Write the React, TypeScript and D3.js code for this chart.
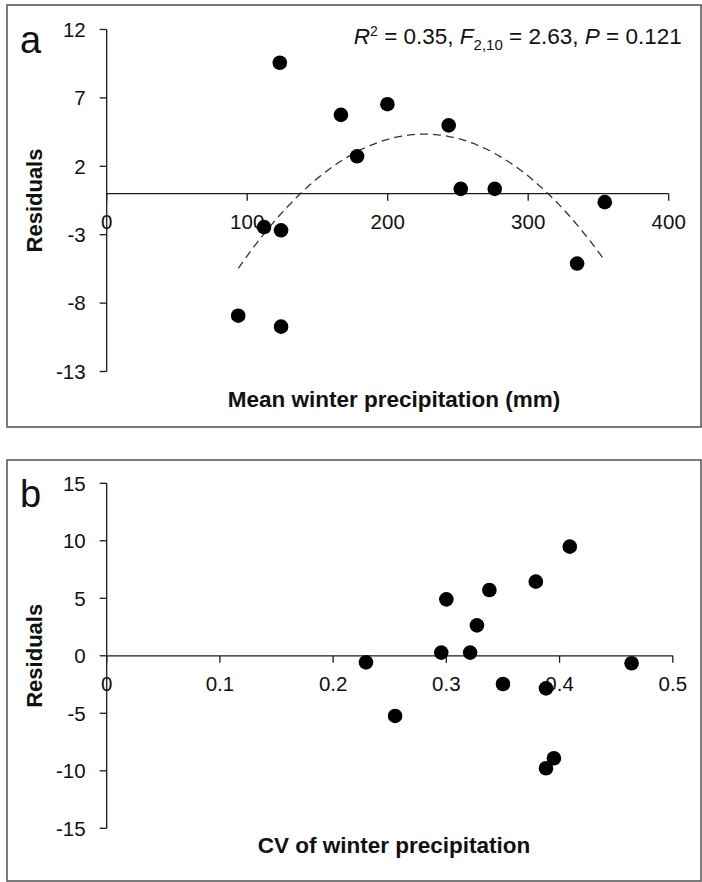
import React from 'react';
import * as d3 from 'd3';

// Panel a: mean winter precipitation (mm) vs residuals
const precipA = [123.2, 166.7, 199.8, 243.4, 178.2, 252.0, 276.2, 354.5, 112.0, 124.1, 334.8, 93.6, 124.1];
const residA = [9.57, 5.76, 6.54, 4.99, 2.73, 0.35, 0.35, -0.62, -2.44, -2.68, -5.11, -8.92, -9.72];
// Panel b: CV of winter precipitation vs residuals
const cvB = [0.409, 0.379, 0.338, 0.3, 0.327, 0.2955, 0.321, 0.229, 0.4636, 0.35, 0.388, 0.2547, 0.395, 0.388];
const residB = [9.49, 6.45, 5.72, 4.91, 2.65, 0.28, 0.28, -0.57, -0.65, -2.45, -2.83, -5.23, -8.91, -9.78];

const xTicksA = [0, 100, 200, 300, 400];
const yTicksA = [12, 7, 2, -3, -8, -13];
const xTicksB = [0, 0.1, 0.2, 0.3, 0.4, 0.5];
const yTicksB = [15, 10, 5, 0, -5, -10, -15];

// quadratic fit: c0 + c1*x + c2*x^2
const fitCoef = [-24.25, 0.25312, -0.00056];
const fitRange = [93.6, 354.5];

const FONT = "'Liberation Sans', Arial, Helvetica, sans-serif";
const AXIS = '#1a1a1a';

type PanelProps = {
  top: number;
  bottom: number;
  label: string;
  xDomain: [number, number];
  yDomain: [number, number];
  xRange: [number, number];
  yRange: [number, number];
  xTicks: number[];
  yTicks: number[];
  xs: number[];
  ys: number[];
  xTitle: string;
  xTitleY: number;
  labelY: number;
  fmtX: (v: number) => string;
  children?: (x: d3.ScaleLinear<number, number>, y: d3.ScaleLinear<number, number>) => React.ReactNode;
};

function Panel(p: PanelProps) {
  const x = d3.scaleLinear().domain(p.xDomain).range(p.xRange);
  const y = d3.scaleLinear().domain(p.yDomain).range(p.yRange);
  const x0 = x(0);
  const y0 = y(0);
  return (
    <g>
      <rect x={7} y={p.top} width={694} height={p.bottom - p.top} fill="none" stroke="#5a5a5a" strokeWidth={1.6} />
      <text x={20} y={p.labelY} fontFamily={FONT} fontSize={38} fill="#111">{p.label}</text>
      {/* y axis */}
      <line x1={x0} x2={x0} y1={y(p.yDomain[1])} y2={y(p.yDomain[0])} stroke={AXIS} strokeWidth={1.3} />
      {p.yTicks.map((t) => (
        <g key={'y' + t}>
          <line x1={x0 - 7} x2={x0} y1={y(t)} y2={y(t)} stroke={AXIS} strokeWidth={1.3} />
          <text x={x0 - 21} y={y(t)} dy="0.36em" textAnchor="end" fontFamily={FONT} fontSize={20.5} fill="#111">{t}</text>
        </g>
      ))}
      {/* x axis at y=0 */}
      <line x1={x(p.xDomain[0])} x2={x(p.xDomain[1])} y1={y0} y2={y0} stroke={AXIS} strokeWidth={1.3} />
      {p.xTicks.map((t) => (
        <g key={'x' + t}>
          <line x1={x(t)} x2={x(t)} y1={y0} y2={y0 + 7} stroke={AXIS} strokeWidth={1.3} />
          <text x={x(t)} y={y0 + 35} textAnchor="middle" fontFamily={FONT} fontSize={20.5} fill="#111">{p.fmtX(t)}</text>
        </g>
      ))}
      <text
        transform={`translate(42,${(y(p.yDomain[0]) + y(p.yDomain[1])) / 2}) rotate(-90)`}
        textAnchor="middle"
        fontFamily={FONT}
        fontWeight="bold"
        fontSize={22}
        fill="#111"
      >Residuals</text>
      <text x={394} y={p.xTitleY} textAnchor="middle" fontFamily={FONT} fontWeight="bold" fontSize={22.5} fill="#111">{p.xTitle}</text>
      {p.children ? p.children(x, y) : null}
      {p.xs.map((v, i) => (
        <circle key={i} cx={x(v)} cy={y(p.ys[i])} r={7.3} fill="#000" />
      ))}
    </g>
  );
}

export default function App() {
  const fitPts = d3.range(fitRange[0], fitRange[1] + 0.001, (fitRange[1] - fitRange[0]) / 80).map((v) => [
    v,
    fitCoef[0] + fitCoef[1] * v + fitCoef[2] * v * v,
  ]);
  return (
    <svg width={702} height={882} style={{ position: 'absolute', left: 0, top: 0, background: '#fff' }}>
      <rect x={0} y={0} width={702} height={882} fill="#fff" />
      <Panel
        top={5}
        bottom={427}
        label="a"
        labelY={53}
        xDomain={[0, 400]}
        yDomain={[-13, 12]}
        xRange={[106.7, 668.7]}
        yRange={[371.5, 29.5]}
        xTicks={xTicksA}
        yTicks={yTicksA}
        xs={precipA}
        ys={residA}
        xTitle="Mean winter precipitation (mm)"
        xTitleY={407}
        fmtX={(v) => String(v)}
      >
        {(x, y) => {
          const line = d3
            .line<number[]>()
            .x((d) => x(d[0]))
            .y((d) => y(d[1]))
            .curve(d3.curveBasis);
          return <path d={line(fitPts) || ''} fill="none" stroke="#333" strokeWidth={1.3} strokeDasharray="8,5" />;
        }}
      </Panel>
      <text x={681.7} y={43.5} textAnchor="end" fontFamily={FONT} fontSize={22.5} fill="#111">
        <tspan fontStyle="italic">R</tspan>
        <tspan fontSize={14} dy={-8}>2</tspan>
        <tspan dy={8}> = 0.35, </tspan>
        <tspan fontStyle="italic">F</tspan>
        <tspan fontSize={15} dy={6}>2,10</tspan>
        <tspan dy={-6}> = 2.63, </tspan>
        <tspan fontStyle="italic">P</tspan>
        <tspan> = 0.121</tspan>
      </text>
      <Panel
        top={460}
        bottom={881}
        label="b"
        labelY={507}
        xDomain={[0, 0.5]}
        yDomain={[-15, 15]}
        xRange={[106.7, 672.8]}
        yRange={[828.3, 483.3]}
        xTicks={xTicksB}
        yTicks={yTicksB}
        xs={cvB}
        ys={residB}
        xTitle="CV of winter precipitation"
        xTitleY={853}
        fmtX={(v) => String(v)}
      />
    </svg>
  );
}
